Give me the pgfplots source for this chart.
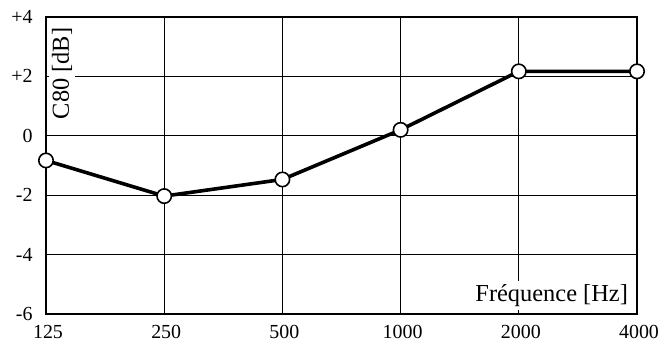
\documentclass[border=0pt]{standalone}
\usepackage{fontspec}
\setmainfont{Liberation Serif}
\usepackage{pgfplots}
\pgfplotsset{compat=1.18}
\begin{document}
\begin{tikzpicture}[x=1bp,y=1bp]
% page frame
\path (0,0) rectangle (663,349);
\begin{axis}[
  set layers=standard,
  at={(46bp,35bp)}, anchor=south west,
  scale only axis,
  width=591bp, height=297bp,
  xmin=0, xmax=5, ymin=-6, ymax=4,
  xtick={0,1,2,3,4,5},
  xticklabels={125,250,500,1000,2000,4000},
  ytick={-6,-4,-2,0,2,4},
  yticklabels={-6,-4,-2,0,+2,+4},
  grid=major,
  major grid style={black, line width=1.3bp},
  axis line style={black, line width=1.7bp},
  tick style={black, line width=1.2bp},
  major tick length=3bp,
  tick align=inside,
  /pgf/number format/assume math mode=true,
  tick label style={font=\fontsize{20}{22}\selectfont},
  xticklabel style={yshift=-8bp, xshift=2bp},
  yticklabel style={xshift=-10bp},
  ylabel={C80 [dB]},
  ylabel style={font=\fontsize{24.5}{26}\selectfont, fill=white, inner sep=3bp,
    at={(axis description cs:0.027,0.975)}, anchor=east},
  xlabel={Fréquence [Hz]},
  xlabel style={font=\fontsize{24.5}{26}\selectfont, fill=white, inner sep=3bp,
    at={(axis description cs:0.99,0.014)}, anchor=south east},
  clip=false,
]
\addplot[black, line width=3.6bp, mark=*, mark size=7.2bp,
  mark options={fill=white, draw=black, line width=1.6bp}]
  coordinates {(0,-0.83) (1,-2.03) (2,-1.47) (3,0.2) (4,2.17) (5,2.17)};
\end{axis}
\end{tikzpicture}
\end{document}
